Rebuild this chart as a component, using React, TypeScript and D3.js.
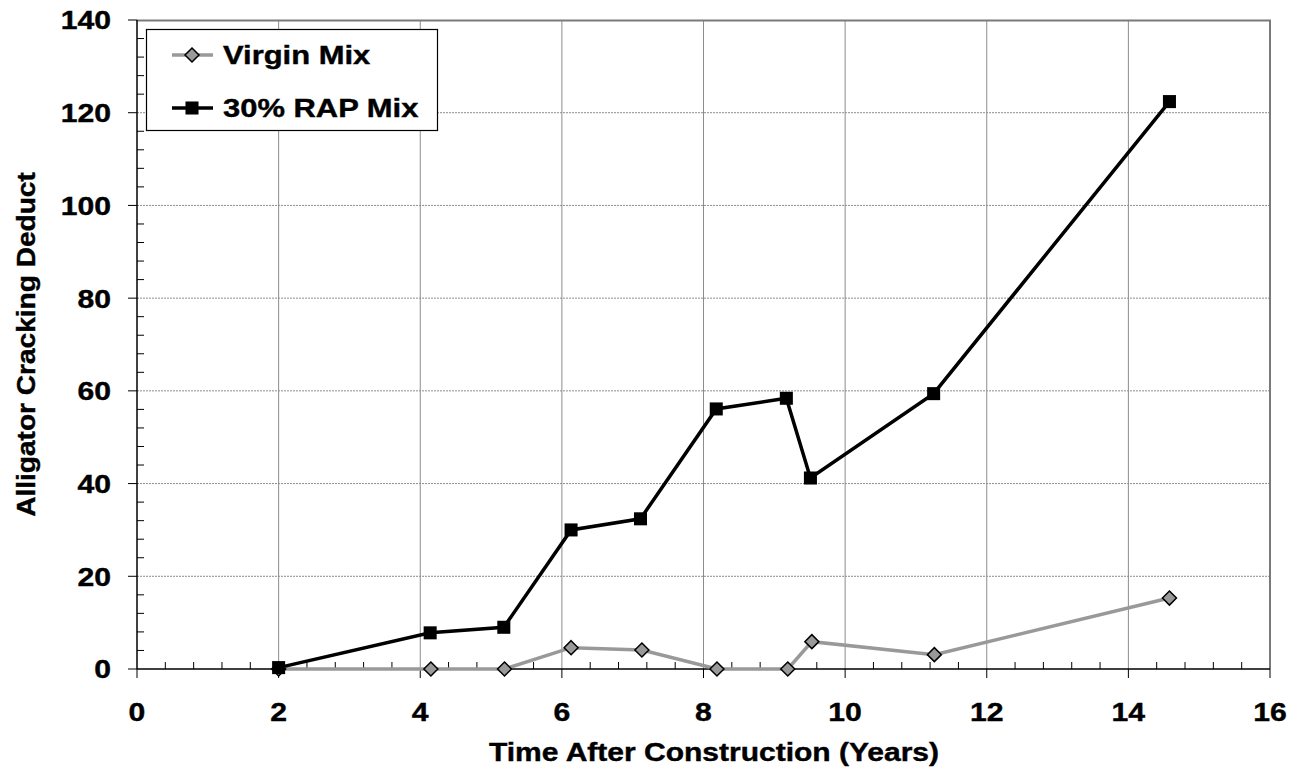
import React, { useEffect, useRef } from 'react';
import * as d3 from 'd3';

// series
const virginYears = [2.0, 4.15, 5.19, 6.13, 7.13, 8.19, 9.19, 9.53, 11.26, 14.58];
const virginDeduct = [0, 0, 0, 4.6, 4.1, 0, 0, 5.9, 3.1, 15.3];
const rapYears = [2.0, 4.14, 5.18, 6.13, 7.11, 8.18, 9.17, 9.51, 11.25, 14.58];
const rapDeduct = [0.3, 7.8, 9.0, 30.0, 32.4, 56.1, 58.4, 41.2, 59.4, 122.4];

const xTicks = [0, 2, 4, 6, 8, 10, 12, 14, 16];
const yTicks = [0, 20, 40, 60, 80, 100, 120, 140];
const legendLabels = ['Virgin Mix', '30% RAP Mix'];

const FONT = '"Liberation Sans", Arial, Helvetica, sans-serif';

const App = () => {
  const ref = useRef<SVGSVGElement | null>(null);

  useEffect(() => {
    const W = 1292;
    const H = 774;
    const margin = { top: 20, right: 22, bottom: 105, left: 137 };
    const width = W - margin.left - margin.right;
    const height = H - margin.top - margin.bottom;

    const svg = d3.select(ref.current);
    svg.selectAll('*').remove();

    const g = svg.append('g').attr('transform', `translate(${margin.left},${margin.top})`);

    const x = d3.scaleLinear().domain([0, 16]).range([0, width]);
    const y = d3.scaleLinear().domain([0, 140]).range([height, 0]);

    // grid
    g.selectAll('line.vgrid')
      .data(xTicks.slice(1, -1))
      .enter().append('line')
      .attr('x1', d => x(d)).attr('x2', d => x(d))
      .attr('y1', 0).attr('y2', height)
      .attr('stroke', '#8c8c8c').attr('stroke-width', 1);

    g.selectAll('line.hgrid')
      .data(yTicks.slice(1, -1))
      .enter().append('line')
      .attr('x1', 0).attr('x2', width)
      .attr('y1', d => y(d)).attr('y2', d => y(d))
      .attr('stroke', '#8c8c8c').attr('stroke-width', 1)
      .attr('stroke-dasharray', '2,1');

    // top and right frame
    g.append('path')
      .attr('d', `M0,0.5H${width}V${height}`)
      .attr('fill', 'none')
      .attr('stroke', '#7a7a7a')
      .attr('stroke-width', 2);

    // minor ticks (inside)
    const yMinor = d3.range(0, 141, 4).filter(v => v % 20 !== 0);
    g.selectAll('line.yminor')
      .data(yMinor)
      .enter().append('line')
      .attr('x1', 0).attr('x2', 7)
      .attr('y1', d => y(d)).attr('y2', d => y(d))
      .attr('stroke', '#000').attr('stroke-width', 1);

    const xMinor = d3.range(0, 80).map(i => i * 0.4).filter(v => v < 16 && Math.abs(v / 2 - Math.round(v / 2)) > 0.01);
    g.selectAll('line.xminor')
      .data(xMinor)
      .enter().append('line')
      .attr('x1', d => x(d)).attr('x2', d => x(d))
      .attr('y1', height).attr('y2', height - 7)
      .attr('stroke', '#000').attr('stroke-width', 1);

    // major ticks (outside)
    g.selectAll('line.ymajor')
      .data(yTicks)
      .enter().append('line')
      .attr('x1', -9).attr('x2', 0)
      .attr('y1', d => y(d)).attr('y2', d => y(d))
      .attr('stroke', '#000').attr('stroke-width', 1);

    g.selectAll('line.xmajor')
      .data(xTicks)
      .enter().append('line')
      .attr('x1', d => x(d)).attr('x2', d => x(d))
      .attr('y1', height).attr('y2', height + 9)
      .attr('stroke', '#000').attr('stroke-width', 1);

    // axis lines
    g.append('line').attr('x1', 0).attr('x2', 0).attr('y1', 0).attr('y2', height)
      .attr('stroke', '#000').attr('stroke-width', 1.5);
    g.append('line').attr('x1', 0).attr('x2', width).attr('y1', height).attr('y2', height)
      .attr('stroke', '#000').attr('stroke-width', 1.5);

    // tick labels
    g.selectAll('g.ylab')
      .data(yTicks)
      .enter().append('g')
      .attr('transform', d => `translate(-26,${y(d)}) scale(1.16,1)`)
      .append('text')
      .attr('text-anchor', 'end')
      .attr('dy', '0.36em')
      .style('font-family', FONT).style('font-weight', 'bold').style('font-size', '26px')
      .style('stroke', '#000').style('stroke-width', 0.4)
      .text(d => d);

    g.selectAll('g.xlab')
      .data(xTicks)
      .enter().append('g')
      .attr('transform', d => `translate(${x(d)},${height + 43}) scale(1.16,1)`)
      .append('text')
      .attr('text-anchor', 'middle')
      .attr('dy', '0.36em')
      .style('font-family', FONT).style('font-weight', 'bold').style('font-size', '26px')
      .style('stroke', '#000').style('stroke-width', 0.4)
      .text(d => d);

    // axis titles
    svg.append('g')
      .attr('transform', `translate(714,752) scale(1.2,1)`)
      .append('text')
      .attr('text-anchor', 'middle').attr('dy', '0.36em')
      .style('font-family', FONT).style('font-weight', 'bold').style('font-size', '25px')
      .style('stroke', '#000').style('stroke-width', 0.4)
      .text('Time After Construction (Years)');

    svg.append('g')
      .attr('transform', `translate(26,${margin.top + height / 2}) rotate(-90) scale(1.08,1)`)
      .append('text')
      .attr('text-anchor', 'middle').attr('dy', '0.36em')
      .style('font-family', FONT).style('font-weight', 'bold').style('font-size', '26px')
      .style('stroke', '#000').style('stroke-width', 0.4)
      .text('Alligator Cracking Deduct');

    // series
    const line = d3.line<[number, number]>().x(d => x(d[0])).y(d => y(d[1]));
    const virgin: [number, number][] = virginYears.map((t, i) => [t, virginDeduct[i]]);
    const rap: [number, number][] = rapYears.map((t, i) => [t, rapDeduct[i]]);

    const diamond = d3.symbol().type(d3.symbolDiamond2).size(125);
    const square = d3.symbol().type(d3.symbolSquare).size(170);

    g.append('path').attr('d', line(virgin))
      .attr('fill', 'none').attr('stroke', '#999999').attr('stroke-width', 3.5);
    g.selectAll('path.vpt')
      .data(virgin)
      .enter().append('path')
      .attr('d', diamond)
      .attr('transform', d => `translate(${x(d[0])},${y(d[1])})`)
      .attr('fill', '#999999').attr('stroke', '#000').attr('stroke-width', 1.5);

    g.append('path').attr('d', line(rap))
      .attr('fill', 'none').attr('stroke', '#000').attr('stroke-width', 3.5);
    g.selectAll('path.rpt')
      .data(rap)
      .enter().append('path')
      .attr('d', square)
      .attr('transform', d => `translate(${x(d[0])},${y(d[1])})`)
      .attr('fill', '#000');

    // legend
    const leg = svg.append('g').attr('transform', 'translate(146,29)');
    leg.append('rect').attr('x', 0.5).attr('y', 0.5).attr('width', 291).attr('height', 101)
      .attr('fill', '#fff').attr('stroke', '#000').attr('stroke-width', 1.2);

    const rows = [
      { label: legendLabels[0], color: '#999999', sym: diamond, fill: '#999999', stroke: '#000' },
      { label: legendLabels[1], color: '#000', sym: square, fill: '#000', stroke: 'none' },
    ];
    rows.forEach((r, i) => {
      const ry = 26 + i * 53;
      leg.append('line').attr('x1', 26).attr('x2', 67).attr('y1', ry).attr('y2', ry)
        .attr('stroke', r.color).attr('stroke-width', 3.5);
      leg.append('path').attr('d', r.sym as any)
        .attr('transform', `translate(46,${ry})`)
        .attr('fill', r.fill).attr('stroke', r.stroke).attr('stroke-width', 1.5);
      leg.append('g').attr('transform', `translate(77,${ry}) scale(1.19,1)`)
        .append('text')
        .attr('dy', '0.36em')
        .style('font-family', FONT).style('font-weight', 'bold').style('font-size', '26px')
        .style('stroke', '#000').style('stroke-width', 0.4)
        .text(r.label);
    });
  }, []);

  return (
    <svg
      ref={ref}
      width={1292}
      height={774}
      style={{ position: 'absolute', left: 0, top: 0, background: '#fff' }}
    />
  );
};

export default App;
